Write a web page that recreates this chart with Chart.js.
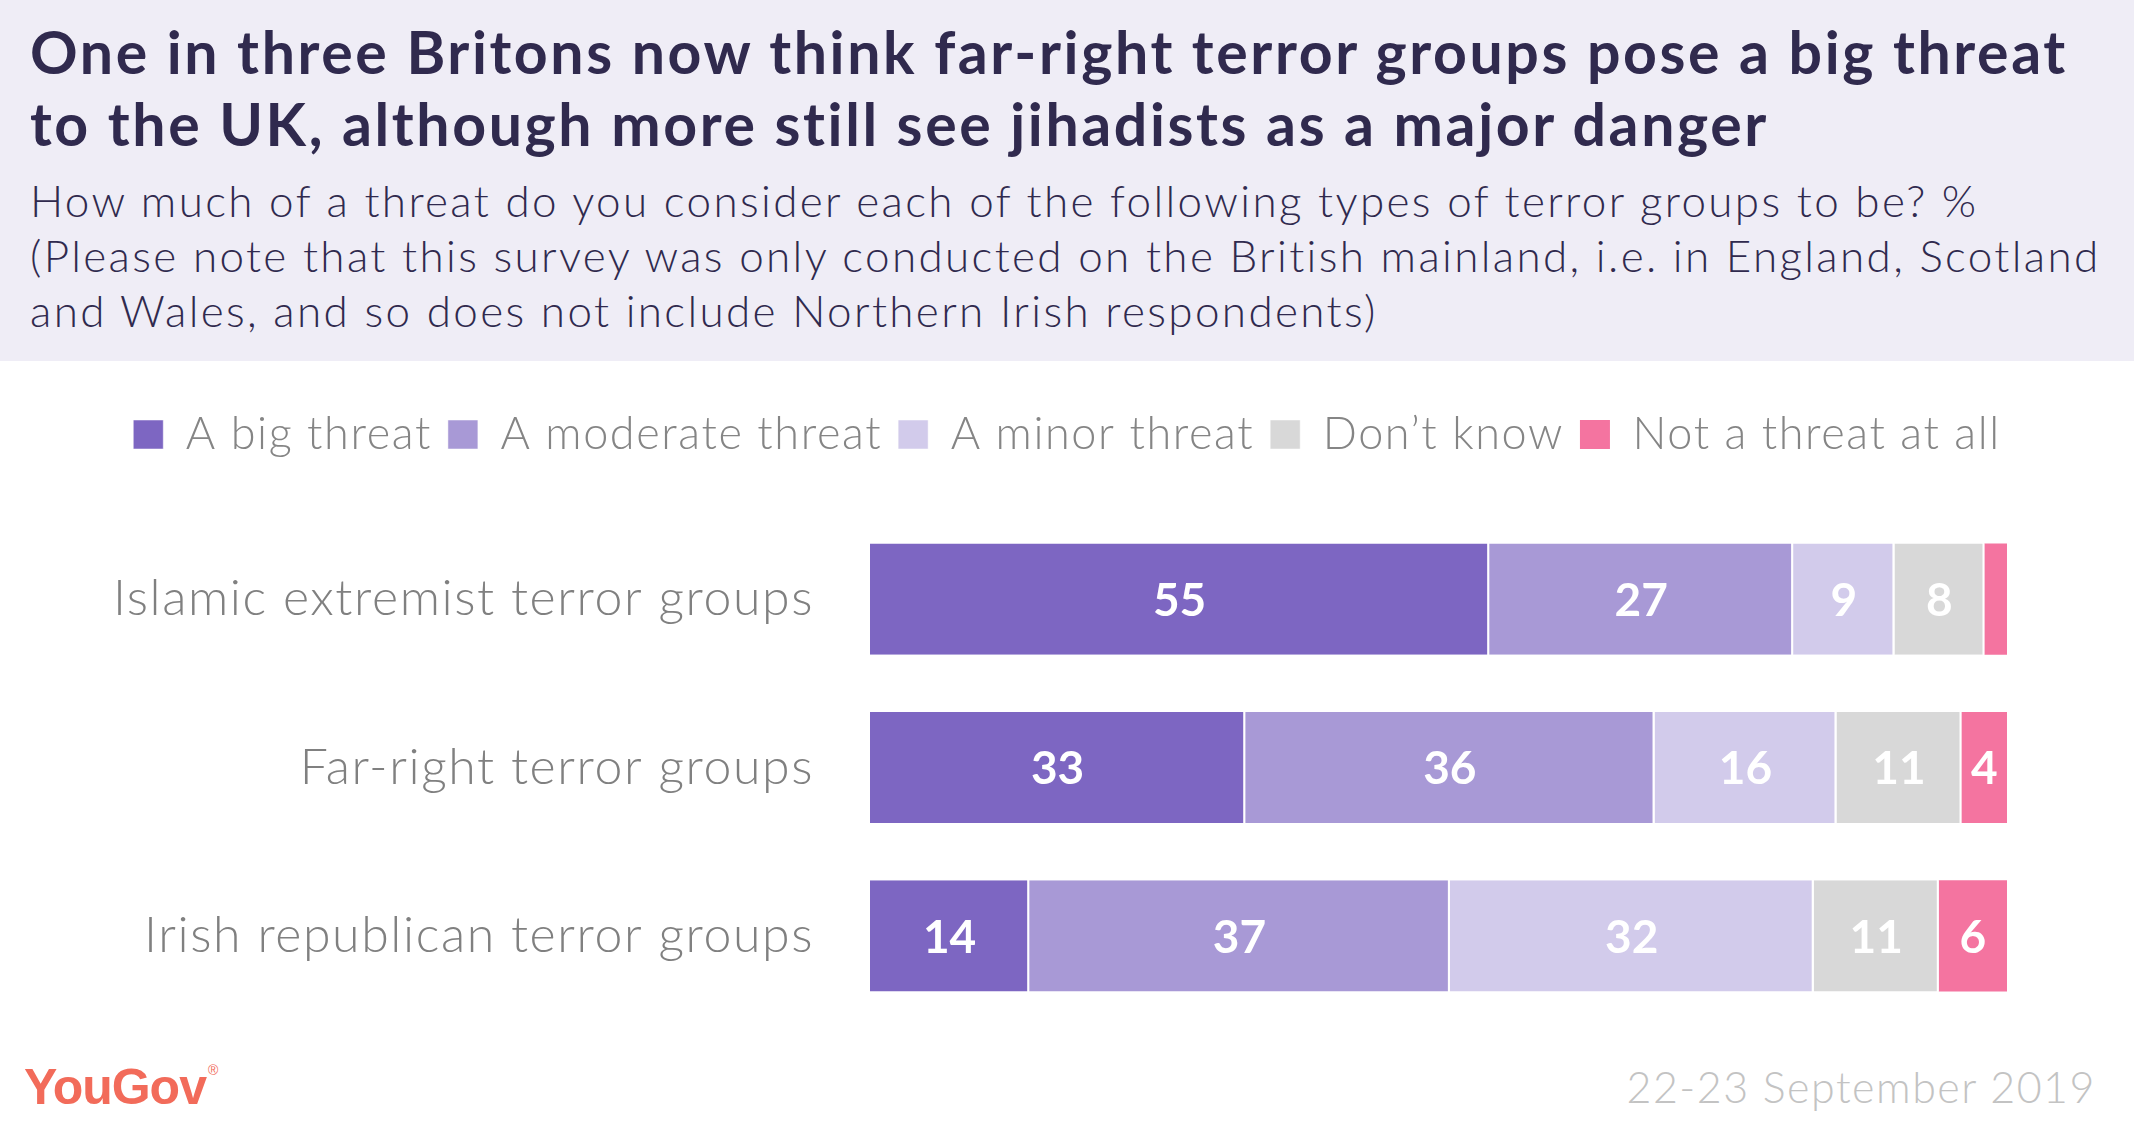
<!DOCTYPE html>
<html>
<head>
<meta charset="utf-8">
<script src="https://cdn.jsdelivr.net/npm/chart.js@4/dist/chart.umd.min.js"></script>
<style>
  body { margin: 0; width: 2134px; height: 1142px; background: #fff; position: relative; overflow: hidden; font-family: 'Lato', sans-serif; }
  .header { position: absolute; left: 0; top: 0; width: 2134px; height: 361px; background: #efedf6; }
  .title { position: absolute; left: 30px; top: 16px; font-size: 59px; line-height: 72px; font-weight: 700; letter-spacing: 2.6px; color: #302a4e; white-space: nowrap; }
  .subtitle { position: absolute; left: 30px; top: 173px; font-size: 44px; line-height: 55px; font-weight: 300; letter-spacing: 2.35px; color: #302a4e; white-space: nowrap; }
  .chart-wrap { position: absolute; left: 0; top: 361px; width: 2134px; height: 681px; }
  .logo { position: absolute; left: 24px; top: 1058px; font-family: 'Liberation Sans', Arial, sans-serif; font-weight: 700; font-size: 50px; letter-spacing: -1px; color: #f26b5a; }
  .logo sup { font-size: 14px; font-weight: 400; vertical-align: top; position: relative; top: 4px; left: 2px; }
  .date { position: absolute; right: 38px; top: 1061px; font-size: 43px; font-weight: 300; letter-spacing: 1.5px; color: #c3c3c3; white-space: nowrap; }
</style>
</head>
<body>
<div class="header">
  <div class="title">One in three Britons now think far-right terror groups pose a big threat<br>to the UK, although more still see jihadists as a major danger</div>
  <div class="subtitle">How much of a threat do you consider each of the following types of terror groups to be? %<br>(Please note that this survey was only conducted on the British mainland, i.e. in England, Scotland<br>and Wales, and so does not include Northern Irish respondents)</div>
</div>
<div class="chart-wrap"><canvas id="threatChart" width="2134" height="681"></canvas></div>
<div class="logo">YouGov<sup>®</sup></div>
<div class="date">22-23 September 2019</div>
<script>
const categories = ['Islamic extremist terror groups', 'Far-right terror groups', 'Irish republican terror groups'];
const seriesNames = ['A big threat', 'A moderate threat', 'A minor threat', 'Don\u2019t know', 'Not a threat at all'];
const bigThreat = [55, 33, 14];
const moderateThreat = [27, 36, 37];
const minorThreat = [9, 16, 32];
const dontKnow = [8, 11, 11];
const notAThreat = [2, 4, 6];
const seriesColors = ['#7d66c2', '#a899d6', '#d2cbeb', '#d8d8d8', '#f474a0'];

const allSeries = [bigThreat, moderateThreat, minorThreat, dontKnow, notAThreat];
// each row is stretched to the full bar width, as in the original
const rowTotals = categories.map((_, i) => allSeries.reduce((acc, s) => acc + s[i], 0));

// wider letter spacing for the canvas text, closer to the original's font.
// set again before layout and draw because resizing the canvas resets it
const spacing = {
  id: 'spacing',
  beforeLayout(chart) { chart.ctx.letterSpacing = '1.6px'; },
  beforeDraw(chart) { chart.ctx.letterSpacing = '1.6px'; }
};

const barLabels = {
  id: 'barLabels',
  afterDatasetsDraw(chart) {
    const ctx = chart.ctx;
    ctx.save();
    ctx.letterSpacing = '0px';
    ctx.font = "700 46px 'Lato', sans-serif";
    ctx.fillStyle = '#ffffff';
    ctx.textAlign = 'center';
    ctx.textBaseline = 'middle';
    chart.data.datasets.forEach((ds, di) => {
      chart.getDatasetMeta(di).data.forEach((bar, i) => {
        const value = ds.raw[i];
        if (value < 3) return;
        ctx.fillText(String(value), (bar.x + bar.base) / 2, bar.y + 2);
      });
    });
    ctx.restore();
  }
};

Chart.defaults.font.family = "'Lato', sans-serif";

new Chart(document.getElementById('threatChart').getContext('2d'), {
  type: 'bar',
  data: {
    labels: categories,
    datasets: allSeries.map((series, si) => ({
      label: seriesNames[si],
      raw: series,
      data: series.map((v, i) => v / rowTotals[i] * 100),
      backgroundColor: seriesColors[si],
      borderColor: '#ffffff',
      borderWidth: si < allSeries.length - 1 ? { right: 2, left: 0, top: 0, bottom: 0 } : 0,
      borderSkipped: false,
      categoryPercentage: 1,
      barPercentage: 0.66
    }))
  },
  options: {
    indexAxis: 'y',
    responsive: false,
    animation: false,
    layout: { padding: { top: 35, right: 0, bottom: 22, left: 0 } },
    scales: {
      x: {
        stacked: true,
        min: 0,
        max: 100,
        position: 'top',
        grid: { display: false, drawTicks: false },
        border: { display: false },
        ticks: { display: false },
        afterFit(scale) { scale.height = 48; }
      },
      y: {
        stacked: true,
        grid: { display: false, drawTicks: false },
        border: { display: false },
        ticks: {
          color: '#808080',
          font: { size: 50, weight: 300 },
          padding: 56
        },
        afterFit(scale) {
          scale.width = 870;
          scale.paddingTop = 0;
          scale.paddingBottom = 0;
        }
      },
      yRight: {
        position: 'right',
        grid: { display: false, drawTicks: false },
        border: { display: false },
        ticks: { display: false },
        afterFit(scale) {
          scale.width = 127;
          scale.paddingTop = 0;
          scale.paddingBottom = 0;
        }
      }
    },
    plugins: {
      legend: {
        position: 'top',
        labels: {
          boxWidth: 30,
          boxHeight: 29,
          padding: 16,
          color: '#858585',
          font: { size: 45, weight: 300 }
        }
      },
      tooltip: { enabled: false }
    }
  },
  plugins: [spacing, barLabels]
});
</script>
</body>
</html>
